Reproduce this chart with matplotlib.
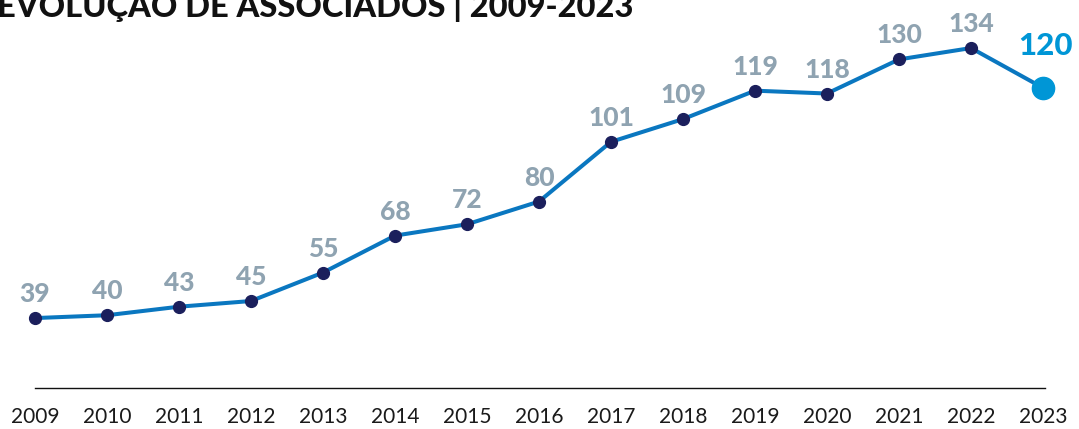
import matplotlib
matplotlib.use("Agg")
import matplotlib.pyplot as plt

years = [2009, 2010, 2011, 2012, 2013, 2014, 2015, 2016, 2017, 2018, 2019, 2020, 2021, 2022, 2023]
members = [39, 40, 43, 45, 55, 68, 72, 80, 101, 109, 119, 118, 130, 134, 120]
year_labels = [str(y) for y in years]
title = "EVOLUÇÃO DE ASSOCIADOS | 2009-2023"

LINE = "#0a77c0"
DOT = "#1b1f5c"
LAB = "#8fa3b1"
LAST = "#0096d6"

plt.rcParams['font.family'] = ['Lato', 'DejaVu Sans']

W, H = 1079, 429
fig = plt.figure(figsize=(W / 100, H / 100), dpi=100)
ax = fig.add_axes([0, (H - 388) / H, 1, 388 / H])
ax.set_xlim(2008.514, 2023.5)
ax.set_ylim(14.4, 150.9)

ax.plot(years, members, color=LINE, lw=2.9, zorder=2, solid_capstyle='round')
ax.plot(years[:-1], members[:-1], 'o', color=DOT, ms=8.5, zorder=3)
ax.plot(years[-1:], members[-1:], 'o', color=LAST, ms=16, zorder=3)

for x, v in zip(years[:-1], members[:-1]):
    ax.annotate(str(v), (x, v), xytext=(0, 11.5), textcoords='offset points',
                ha='center', va='baseline', fontsize=19, fontweight='black', color=LAB)
ax.annotate(str(members[-1]), (years[-1], members[-1]), xytext=(2, 23.5),
            textcoords='offset points', ha='center', va='baseline',
            fontsize=22.5, fontweight='black', color=LAST)

for s in ['top', 'right', 'left']:
    ax.spines[s].set_visible(False)
ax.spines['bottom'].set_bounds(2009, 2023.03)
ax.spines['bottom'].set_linewidth(1.0)
ax.spines['bottom'].set_color('#111111')
ax.set_yticks([])
ax.set_xticks(years)
ax.set_xticklabels(year_labels, fontsize=15, color='#1a1a1a')
ax.tick_params(axis='x', length=0, pad=14)

fig.text(-0.003, 1 - 17 / H, title, fontsize=23.5, fontweight='black', color='#111111',
         ha='left', va='baseline')

fig.savefig("out.png", dpi=100)
